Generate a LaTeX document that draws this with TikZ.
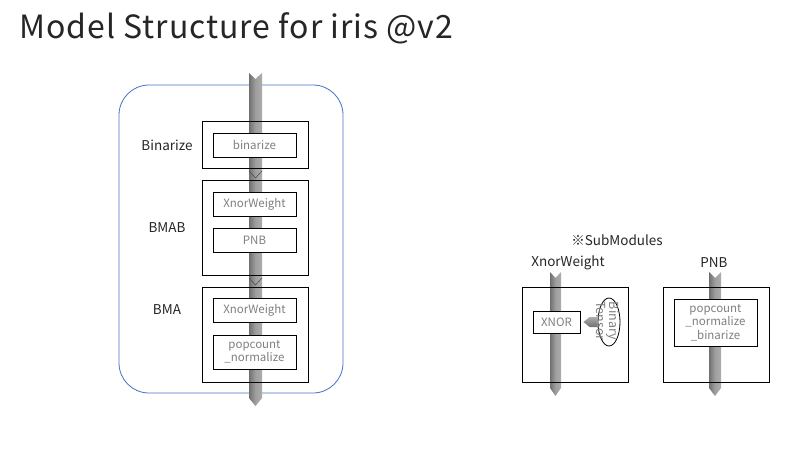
\documentclass[tikz,border=0pt]{standalone}
\usepackage{fontspec}
\setmainfont{Noto Sans CJK JP}
\usetikzlibrary{shapes.geometric}
\definecolor{bandL}{RGB}{112,112,112}
\definecolor{bandR}{RGB}{172,172,172}
\definecolor{frameblue}{RGB}{68,114,196}
\definecolor{subtxt}{RGB}{128,128,128}
% bande grise : x, haut, bas, demi-largeur
\newcommand{\flowband}[4]{%
  \shade[left color=bandL,right color=bandR,middle color=gray!75]
    (#1-#4,#2) -- (#1,#2+6) -- (#1+#4,#2) -- (#1+#4,#3) -- (#1,#3+8) -- (#1-#4,#3) -- cycle;}
\newcommand{\chevmark}[2]{\draw[gray!55!black,line width=0.5pt] (#1-6.5,#2) -- (#1,#2+7) -- (#1+6.5,#2);}

\begin{document}
\begin{tikzpicture}[x=1pt,y=-1pt,
    outerbox/.style={draw,line width=0.8pt,inner sep=0pt,minimum width=106pt,minimum height=95pt},
    innerbox/.style={draw,fill=white,line width=0.8pt,inner sep=1pt,text=subtxt,
      font=\fontsize{11.5}{13.5}\selectfont,align=center,minimum width=83pt,minimum height=24pt},
    lbl/.style={font=\fontsize{13.5}{15}\selectfont,text=black!85}]
  \fill[white] (0,0) rectangle (805,455);
  \node[anchor=base west,font=\fontsize{32}{36}\selectfont\addfontfeatures{LetterSpace=3},text=black!85] (title) at (16,38) {Model Structure for iris @v2};

  % modele principal
  \draw[frameblue,line width=0.8pt,rounded corners=30pt] (119,85) rectangle (343,393);
  \flowband{255.5}{73}{398}{6.5}
  \node[outerbox,minimum height=47pt] (binbox) at (255,144.5) {};
  \node[outerbox] (bmabbox) at (255,227.5) {};
  \node[outerbox] (bmabox) at (255,334.5) {};
  \chevmark{255.5}{171}
  \chevmark{255.5}{278}
  \node[innerbox] (binarize) at (254.5,145) {binarize};
  \node[innerbox] (xnorw1) at (254.5,204) {XnorWeight};
  \node[innerbox] (pnb1) at (254.5,240) {PNB};
  \node[innerbox] (xnorw2) at (254.5,310.5) {XnorWeight};
  \node[innerbox,minimum height=34pt] (popnorm) at (254.5,352) {popcount\\\_normalize};
  \node[lbl] (lbin) at (167,145) {Binarize};
  \node[lbl] (lbmab) at (167,228) {BMAB};
  \node[lbl] (lbma) at (167,310) {BMA};

  % sous-modules
  \node[lbl] (lsub) at (617,240) {※SubModules};
  \node[lbl] (lxw) at (568,263) {XnorWeight};
  \node[lbl] (lpnb) at (714,263) {PNB};
  \flowband{555.5}{272}{388}{5.5}
  \flowband{715}{272}{388}{6}
  \node[outerbox] (xwbox) at (575,334.5) {};
  \node[outerbox] (pnbbox) at (716,334.5) {};
  \node[innerbox,minimum width=47pt,minimum height=22pt] (xnor) at (556.5,322) {XNOR};
  \node[draw,ellipse,fill=white,line width=0.8pt,minimum width=22pt,minimum height=48pt,inner sep=0pt] (btensor) at (609,322) {};
  \node[rotate=-90,align=center,text=subtxt,font=\fontsize{12.5}{10.5}\selectfont] (btext) at (608,321) {Binary\\Tensor};
  \shade[top color=bandR,bottom color=bandL]
    ([shift={(0,-5)}]btensor.west) -- ([shift={(-8,-5)}]btensor.west) -- ([xshift=3pt]xnor.east)
    -- ([shift={(-8,5)}]btensor.west) -- ([shift={(0,5)}]btensor.west) -- cycle;
  \node[innerbox,minimum height=47pt] (pnbin) at (715.5,322.5) {popcount\\\_normalize\\\_binarize};
\end{tikzpicture}
\end{document}
